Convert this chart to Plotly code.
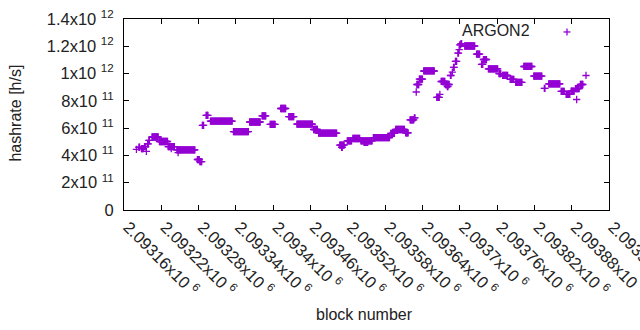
import plotly.graph_objects as go

BASE = 2093160
# runs of constant hashrate: (first block offset, last block offset, hashrate in 1e11 h/s)
run_start = [20, 24, 28, 33, 36, 38, 40, 45, 57, 71, 76, 87, 85, 118, 122, 126, 132, 139, 176, 202,
             222, 235, 252, 265, 278, 305, 313, 347, 350, 359, 368, 381, 386, 401, 429, 437, 453, 460,
             467, 470, 471, 475, 482, 503, 508, 510, 517, 520, 525, 528, 530, 533, 537, 539, 540, 542,
             548, 567, 575, 578, 586, 603, 609, 621, 630, 643, 659, 676, 683, 703, 711, 719, 726, 728,
             734, 743]
run_end = [20, 25, 31, 35, 36, 39, 41, 55, 70, 81, 76, 87, 114, 121, 125, 128, 135, 174, 200, 219,
           228, 243, 260, 273, 303, 311, 342, 354, 351, 366, 379, 399, 392, 427, 435, 451, 457, 466,
           468, 470, 474, 480, 499, 507, 508, 516, 523, 521, 526, 528, 531, 535, 538, 539, 541, 543,
           564, 572, 577, 583, 601, 606, 617, 627, 640, 656, 672, 677, 701, 708, 717, 724, 732, 728,
           738, 743]
run_value = [4.45, 4.6, 4.5, 4.65, 4.3, 4.85, 5.1, 5.35, 5.02, 4.65, 4.5, 4.2, 4.40, 3.7, 3.55, 6.2,
             6.93, 6.52, 5.75, 6.45, 6.9, 6.27, 7.44, 6.85, 6.3, 5.9, 5.64, 4.76, 4.6, 5.06, 5.24, 5.06,
             4.95, 5.31, 5.61, 5.9, 5.65, 6.6, 6.75, 8.65, 9.2, 9.6, 10.19, 8.25, 8.47, 9.42, 9.2, 9.05,
             9.86, 10.1, 10.45, 10.89, 11.5, 11.75, 12.1, 12.2, 12.02, 11.43, 10.67, 11.03, 10.34, 10.0,
             9.86, 9.57, 9.35, 10.52, 9.82, 8.91, 9.24, 8.69, 8.47, 8.72, 8.9, 8.1, 9.2, 9.86]

x_ticks = [2093160 + 60 * i for i in range(14)]
x_tick_labels = ["2.09316", "2.09322", "2.09328", "2.09334", "2.0934", "2.09346", "2.09352",
                 "2.09358", "2.09364", "2.0937", "2.09376", "2.09382", "2.09388", "2.09394"]
y_ticks = [0, 2e11, 4e11, 6e11, 8e11, 1e12, 1.2e12, 1.4e12]
y_tick_labels = ["0", "2x10 <sup>11</sup>", "4x10 <sup>11</sup>", "6x10 <sup>11</sup>",
                 "8x10 <sup>11</sup>", "1x10 <sup>12</sup>", "1.2x10 <sup>12</sup>", "1.4x10 <sup>12</sup>"]

blocks, rates = [], []
for s, e, v in zip(run_start, run_end, run_value):
    for b in range(s, e + 1):
        blocks.append(BASE + b)
        rates.append(v * 1e11)

COLOR = "#9400D3"
FONT = "Liberation Sans, Arial, sans-serif"

fig = go.Figure()
fig.add_trace(go.Scatter(x=blocks, y=rates, mode="markers", name="ARGON2",
                         marker=dict(symbol="cross-thin", size=5.2,
                                     line=dict(color=COLOR, width=1.3), color=COLOR),
                         showlegend=False))

axis_common = dict(showline=True, linecolor="black", linewidth=1, mirror="ticks",
                   ticks="inside", ticklen=5, tickcolor="black", showgrid=False,
                   zeroline=False, automargin=False, ticklabeloverflow="allow",
                   tickfont=dict(family=FONT, size=16.5, color="#222"))

fig.update_layout(
    width=640, height=330,
    margin=dict(l=124, r=31, t=19, b=120),
    paper_bgcolor="white", plot_bgcolor="white",
    font=dict(family=FONT, size=16, color="#222"),
    xaxis=dict(range=[2093160, 2093940], tickmode="array", tickvals=x_ticks,
               ticktext=[t + "x10 <sup>6</sup>" for t in x_tick_labels], tickangle=45,
               ticklabelshift=4, **axis_common),
    yaxis=dict(range=[0, 1.4e12], tickmode="array", tickvals=y_ticks,
               ticktext=y_tick_labels, ticklabelstandoff=6, **axis_common),
    annotations=[
        dict(text="hashrate [h/s]", xref="paper", yref="paper", x=-0.2227, y=0.51,
             textangle=-90, showarrow=False, xanchor="center", yanchor="middle",
             font=dict(family=FONT, size=16, color="#222")),
        dict(text="block number", xref="paper", yref="paper", x=0.495, y=-0.546,
             showarrow=False, xanchor="center", yanchor="middle",
             font=dict(family=FONT, size=16, color="#222")),
        dict(text="ARGON2", xref="paper", yref="paper", x=(532 - 124) / 485, y=(210.5 - 31) / 191.5,
             showarrow=False, xanchor="right", yanchor="middle",
             font=dict(family=FONT, size=16, color="#222")),
    ],
    shapes=[
        dict(type="line", xref="paper", yref="paper", x0=(563.5 - 124) / 485, x1=(570.5 - 124) / 485,
             y0=(210.5 - 32) / 191.5, y1=(210.5 - 32) / 191.5, line=dict(color=COLOR, width=1.3)),
        dict(type="line", xref="paper", yref="paper", x0=(567 - 124) / 485, x1=(567 - 124) / 485,
             y0=(210.5 - 28.5) / 191.5, y1=(210.5 - 35.5) / 191.5, line=dict(color=COLOR, width=1.3)),
    ],
)

fig.write_html("out.html", config={"displayModeBar": False})

# remove the browser's default page margin so the figure sits at the window's top-left corner
with open("out.html", encoding="utf-8") as f:
    html = f.read()
html = html.replace("<head>", "<head><style>html,body{margin:0;padding:0;overflow:hidden;}</style>", 1)
with open("out.html", "w", encoding="utf-8") as f:
    f.write(html)
